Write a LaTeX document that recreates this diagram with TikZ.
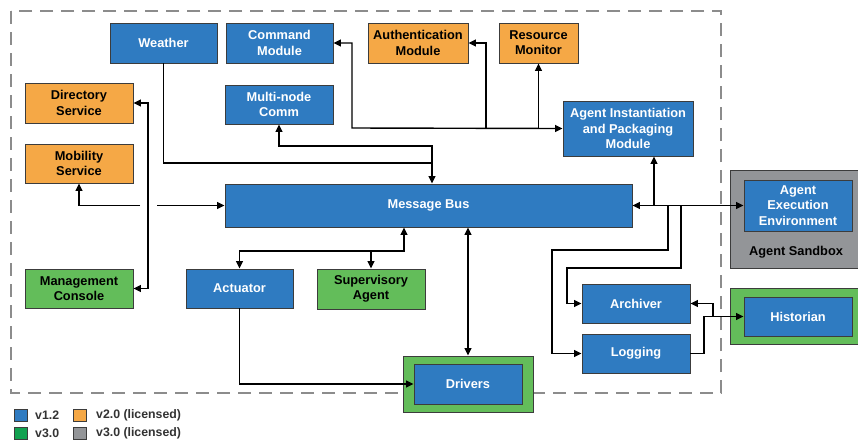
\documentclass[tikz,border=0pt]{standalone}
\usepackage{fontspec}
\setmainfont{Liberation Sans}
\usetikzlibrary{arrows.meta}

\definecolor{vblue}{HTML}{2F7BC1}
\definecolor{vorange}{HTML}{F5A846}
\definecolor{vgreen}{HTML}{63BD5A}
\definecolor{vgreenkey}{HTML}{12A150}
\definecolor{vgray}{HTML}{939598}
\definecolor{edge}{HTML}{3C3C3C}
\definecolor{dashgray}{HTML}{8C8C8C}
\definecolor{keytext}{HTML}{333333}

\tikzset{
  dims/.style 2 args={minimum width=#1pt, minimum height=#2pt},
  box/.style={draw=edge, line width=0.9pt, inner sep=1pt, align=center,
    font=\fontsize{12.8}{15.3}\selectfont\bfseries},
  bluebox/.style={box, fill=vblue, text=white},
  orangebox/.style={box, fill=vorange, text=black},
  greenbox/.style={box, fill=vgreen, text=black},
  greenframe/.style={draw=edge, line width=0.9pt, fill=vgreen, inner sep=0pt},
  grayframe/.style={draw=edge, line width=0.9pt, fill=vgray, inner sep=0pt},
  link/.style={line width=1.4pt, draw=black},
  keybox/.style={draw=edge, line width=0.8pt, minimum width=13pt, minimum height=12pt, inner sep=0pt},
  keylabel/.style={anchor=west, inner sep=0pt, text=keytext,
    font=\fontsize{12.3}{14}\selectfont\bfseries},
  boundary/.style={draw=dashgray, line width=1.8pt, dash pattern=on 13pt off 8pt},
}

\begin{document}
\begin{tikzpicture}[x=1pt, y=-1pt, >={Triangle[length=7.5pt,width=7pt]}]
\useasboundingbox (0,0) rectangle (858,440);
\fill[white] (0,0) rectangle (858,440);

% platform boundary
\draw[boundary] (11,11) rectangle (721,393);

% top row
\node[bluebox, dims={107}{40}] (weather) at (163.5,43) {Weather};
\node[bluebox, dims={107}{40}] (command) at (279.5,43) {Command\\Module};
\node[orangebox, dims={100}{40}] (auth) at (418,43) {Authentication\\Module};
\node[orangebox, dims={79}{40}] (resmon) at (538.5,43) {Resource\\Monitor};

% left column
\node[orangebox, dims={108}{40}] (directory) at (79,103) {Directory\\Service};
\node[orangebox, dims={108}{39}] (mobility) at (79,163.5) {Mobility\\Service};
\node[greenbox, dims={108}{39}] (mgmt) at (79,288.5) {Management\\Console};

% middle
\node[bluebox, dims={108}{39}] (multinode) at (279,104.5) {Multi-node\\Comm};
\node[bluebox, dims={130}{55}] (aipm) at (628,128.5) {Agent Instantiation\\and Packaging\\Module};
\node[bluebox, dims={407}{43}] (bus) at (428.5,205.5) {Message Bus};
\node[bluebox, dims={107}{39}] (actuator) at (239.5,288.5) {Actuator};
\node[greenbox, dims={108}{40}] (supervisory) at (371,289) {Supervisory\\Agent};

% drivers
\node[greenframe, dims={130}{56}] (drvframe) at (468,384) {};
\node[bluebox, dims={108}{40}] (drivers) at (468,384) {Drivers};

% right column
\node[bluebox, dims={108}{39}] (archiver) at (636,303.5) {Archiver};
\node[bluebox, dims={108}{39}] (logging) at (636,353.5) {Logging};

% agent sandbox
\node[grayframe, dims={130}{98}] (sandbox) at (795,219) {};
\node[bluebox, dims={108}{51}] (aee) at (798,205.5) {Agent\\Execution\\Environment};
\node[box, draw=none, fill=none, text=black] (sandboxlabel) at (796,252) {Agent Sandbox};

% historian
\node[greenframe, dims={130}{56}] (histframe) at (795,316) {};
\node[bluebox, dims={108}{39}] (historian) at (798,316.5) {Historian};

% junction points
\coordinate (jm) at (432,146);
\coordinate (jw) at (432,163);
\coordinate (jc) at (352,128);
\coordinate (ja) at (486,128);
\coordinate (jb) at (654,205.5);
\coordinate (jl) at (668,205.5);
\coordinate (jr) at (681,205.5);
\coordinate (bl) at (552,250);
\coordinate (br) at (567,268);
\coordinate (dv) at (148,200);
\coordinate (gapl) at (140,205.5);
\coordinate (gapr) at (157,205.5);
\coordinate (bb) at (404,251);
\coordinate (hj) at (704,316.5);
\coordinate (ha) at (713,316.5);

% connectors around the message bus
\draw[link, <->] (multinode.south) |- (jm) -- (jm |- bus.north);
\draw[link] (weather.south) |- (jw);
\draw[link, <->] (command.east) -| (jc) -- (aipm.west);
\draw[link, ->] (ja) |- (auth.east);
\draw[link, ->] (resmon.south |- jc) -- (resmon.south);
\draw[link, ->] (jb) -- (jb |- aipm.south);
\draw[link, <->] (bus.east) -- (aee.west);
\draw[link, ->] (jl) |- (bl) |- (logging.west);
\draw[link, ->] (jr) |- (br) |- (archiver.west);
\draw[link, ->] (logging.east) -| (hj) -- (historian.west);
\draw[link, ->] (ha) |- (archiver.east);
\draw[link, <->] (directory.east) -| (dv) |- (mgmt.east);
% mobility link, broken where it passes the directory line
\draw[link, ->] (gapl) -| (mobility.south);
\draw[link, ->] (gapr) -- (bus.west);
\draw[link, <->] (actuator.north) |- (bb) -- (bb |- bus.south);
\draw[link, ->] (supervisory.north |- bb) -- (supervisory.north);
\draw[link, <->] (drvframe.north |- bus.south) -- (drvframe.north);
\draw[link, ->] (actuator.south) |- (drivers.west);

% legend
\node[keybox, fill=vblue] (k1) at (20.5,415) {};
\node[keylabel] (k1t) at (35,415) {v1.2};
\node[keybox, fill=vorange] (k2) at (80,415) {};
\node[keylabel] (k2t) at (96,415) {v2.0 (licensed)};
\node[keybox, fill=vgreenkey] (k3) at (20.5,433) {};
\node[keylabel] (k3t) at (35,433) {v3.0};
\node[keybox, fill=vgray] (k4) at (80,433) {};
\node[keylabel] (k4t) at (96,433) {v3.0 (licensed)};
\end{tikzpicture}
\end{document}
